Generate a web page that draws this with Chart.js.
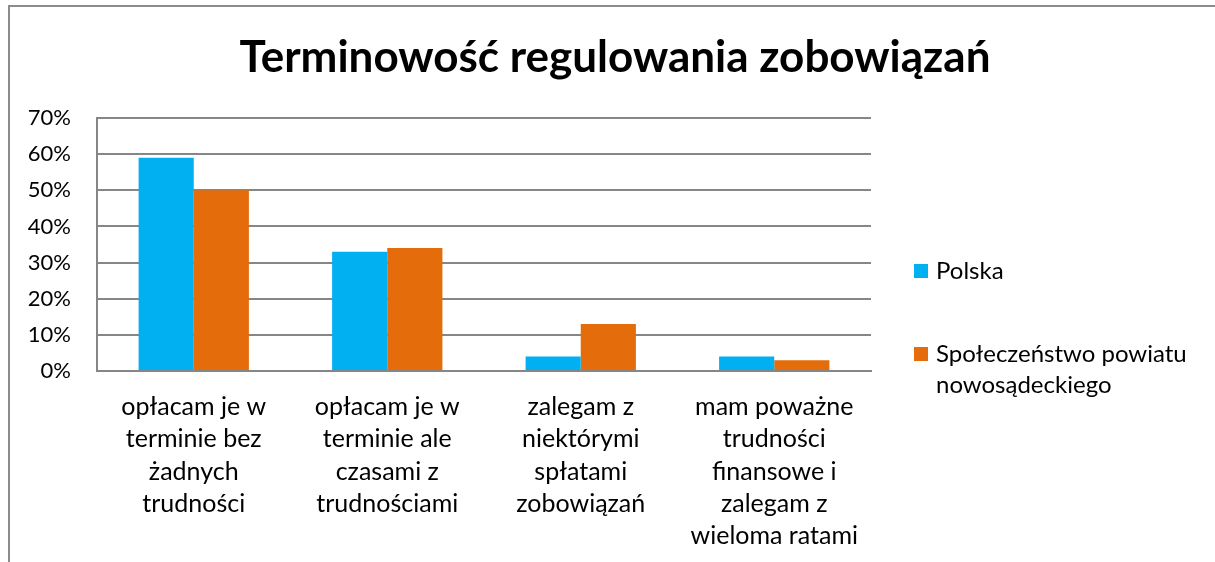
<!DOCTYPE html>
<html>
<head>
<meta charset="utf-8">
<script src="https://cdn.jsdelivr.net/npm/chart.js@4.4.0/dist/chart.umd.min.js"></script>
<style>
	html, body { margin: 0; padding: 0; background: #fff; }
	#wrap { width: 1215px; height: 562px; }
</style>
</head>
<body>
<div id="wrap"><canvas id="chart"></canvas></div>
<script>
const chartTitle = "Terminowość regulowania zobowiązań";
const categories = [
	["opłacam je w", "terminie bez", "żadnych", "trudności"],
	["opłacam je w", "terminie ale", "czasami z", "trudnościami"],
	["zalegam z", "niektórymi", "spłatami", "zobowiązań"],
	["mam poważne", "trudności", "finansowe i", "zalegam z", "wieloma ratami"],
];
const polska = [59, 33, 4, 4];
const powiat = [50, 34, 13, 3];
const seriesNames = ["Polska", ["Społeczeństwo powiatu", "nowosądeckiego"]];
const yTicks = [0, 10, 20, 30, 40, 50, 60, 70];

const FONT = "Lato, 'Noto Sans', sans-serif";

// frame around the chart (only left and top edges are visible) + title centred on the whole picture
const framePlugin = {
	id: "frame",
	beforeDraw(chart) {
		const ctx = chart.ctx;
		ctx.save();
		ctx.strokeStyle = "#8c8c8c";
		ctx.lineWidth = 2;
		ctx.beginPath();
		ctx.moveTo(9, 562);
		ctx.lineTo(9, 6);
		ctx.lineTo(1215, 6);
		ctx.stroke();

		ctx.fillStyle = "#000";
		ctx.font = "bold 44px " + FONT;
		ctx.textAlign = "center";
		ctx.textBaseline = "alphabetic";
		ctx.fillText(chartTitle, 615, 72);
		ctx.restore();
	},
};

// legend on the right, with the second entry wrapped
const sideLegend = {
	id: "sideLegend",
	afterDraw(chart) {
		const ctx = chart.ctx;
		const rows = [271, 354];
		ctx.save();
		ctx.font = "24px " + FONT;
		ctx.textBaseline = "middle";
		chart.data.datasets.forEach((ds, i) => {
			const y = rows[i];
			ctx.fillStyle = ds.backgroundColor;
			ctx.fillRect(914, y - 7, 14, 14);
			ctx.fillStyle = "#000";
			const lines = Array.isArray(ds.label) ? ds.label : [ds.label];
			lines.forEach((line, j) => {
				ctx.fillText(line, 936, y + j * 31);
			});
		});
		ctx.restore();
	},
};

new Chart(document.getElementById("chart"), {
	type: "bar",
	data: {
		labels: categories,
		datasets: [
			{
				label: seriesNames[0],
				data: polska,
				backgroundColor: "#00b0f0",
				borderWidth: 0,
			},
			{
				label: seriesNames[1],
				data: powiat,
				backgroundColor: "#e46c0a",
				borderWidth: 0,
			},
		],
	},
	options: {
		responsive: true,
		maintainAspectRatio: false,
		animation: false,
		layout: {
			padding: { left: 0, right: 344, top: 118, bottom: 0 },
		},
		datasets: {
			bar: { categoryPercentage: 0.57, barPercentage: 1 },
		},
		plugins: {
			legend: { display: false },
			tooltip: { enabled: false },
			title: { display: false },
		},
		scales: {
			x: {
				grid: { display: false, drawTicks: false },
				border: { color: "#868686", width: 2 },
				ticks: {
					color: "#000",
					font: { family: FONT, size: 25, lineHeight: 1.29 },
					autoSkip: false,
					maxRotation: 0,
					padding: 20,
				},
				afterFit(scale) {
					scale.height = 191;
				},
			},
			y: {
				min: 0,
				max: 70,
				afterBuildTicks(scale) {
					scale.ticks = yTicks.map((v) => ({ value: v }));
				},
				grid: { color: "#868686", lineWidth: 2, drawTicks: false },
				border: { color: "#868686", width: 2 },
				ticks: {
					color: "#000",
					font: { family: FONT, size: 22 },
					padding: 26,
					callback: (v) => v + "%",
				},
				afterFit(scale) {
					scale.width = 97;
				},
			},
		},
	},
	plugins: [framePlugin, sideLegend],
});
</script>
</body>
</html>
